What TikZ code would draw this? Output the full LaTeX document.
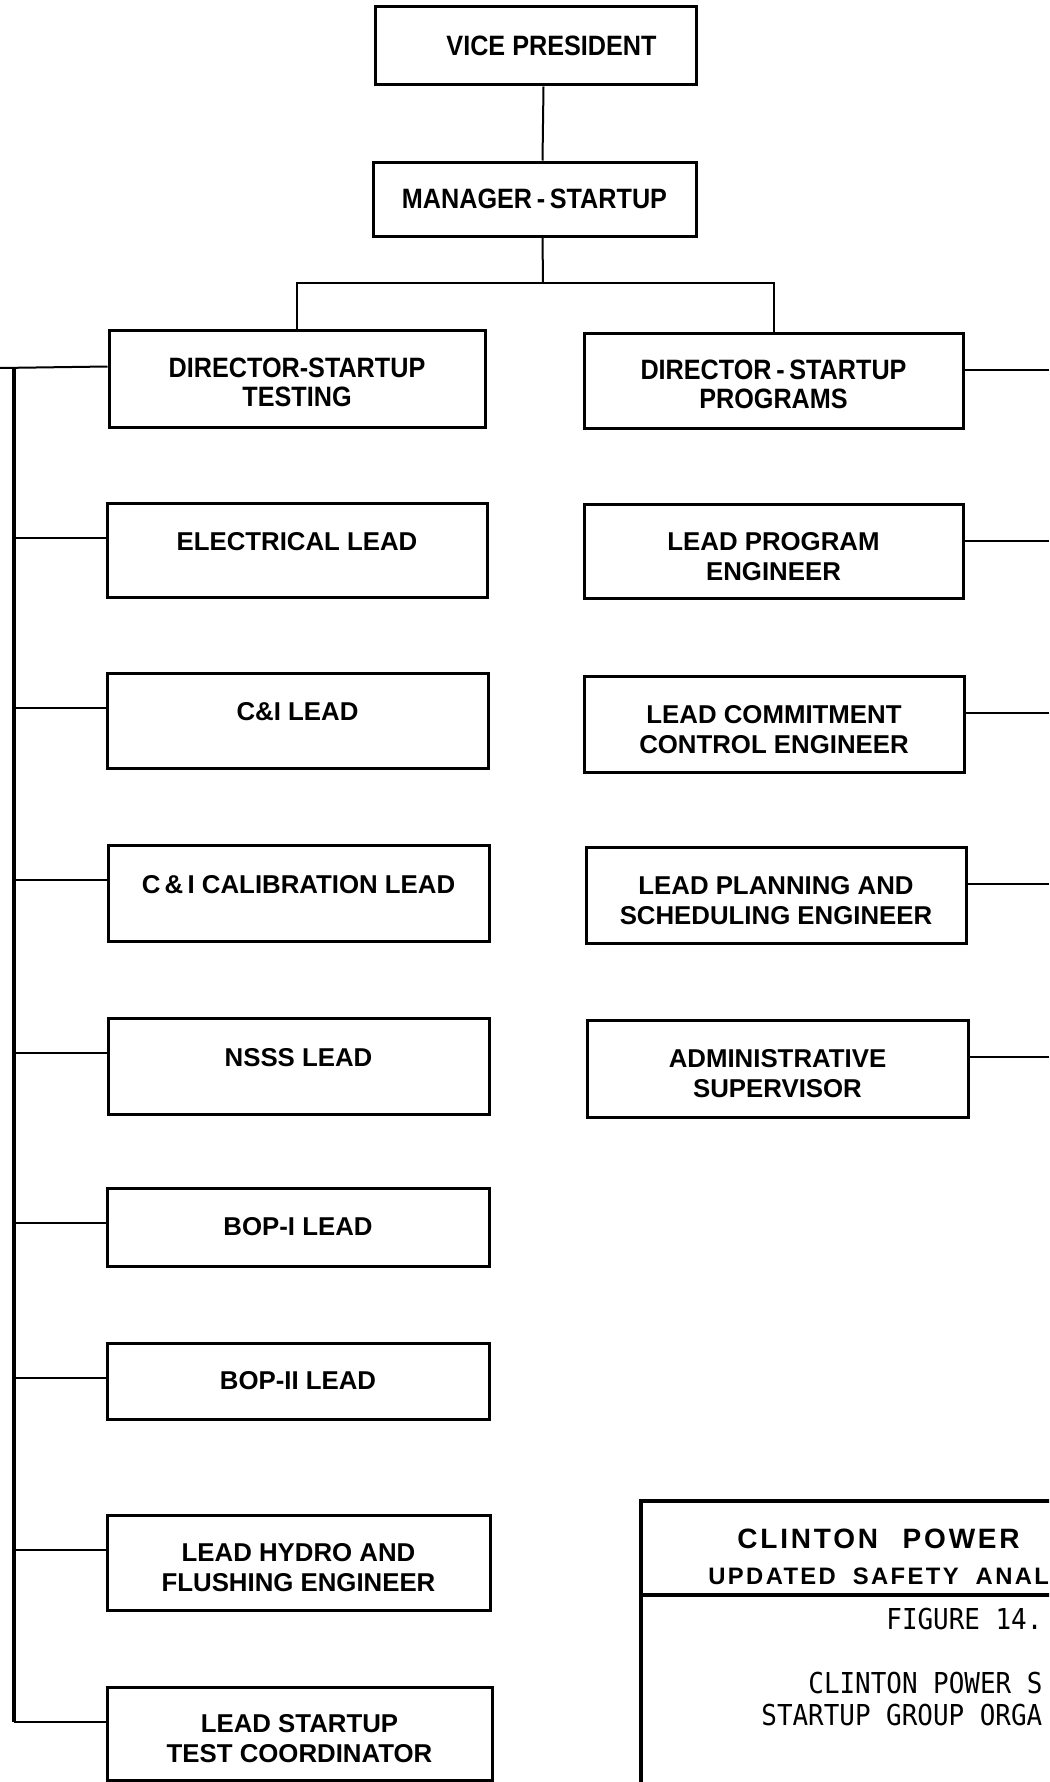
\documentclass[tikz,border=0pt]{standalone}
\usepackage{fontspec}
\setmainfont{Liberation Sans}
\newfontfamily\condfont[FakeStretch=0.9]{Liberation Sans}
\newfontfamily\ttlfont[LetterSpace=10]{Liberation Sans}
\newfontfamily\monofont[FakeStretch=0.9]{DejaVu Sans Mono}
\newcommand\hiA{\rule{0pt}{14.25pt}}
\newcommand\hiB{\rule{0pt}{14pt}}
\newcommand\loA{\rule[-9pt]{0pt}{9pt}}
\tikzset{
  x=0.5pt, y=-0.5pt,
  box/.style={draw, line width=1.5pt, inner sep=0pt, align=center,
    font=\bfseries\fontsize{12.9pt}{15pt}\selectfont},
  topbox/.style={box, font=\condfont\bfseries\fontsize{14pt}{14.5pt}\selectfont},
  conn/.style={line width=1pt},
  bus/.style={line width=1.6pt},
  tbl/.style={line width=2pt},
  ttl/.style={anchor=base west, inner sep=0pt}
}
\begin{document}
\begin{tikzpicture}
\fill[white] (0,0) rectangle (1049,1782);
\useasboundingbox (0,0) rectangle (1049,1782);
\clip (0,0) rectangle (1049,1782);

% top boxes
\node[topbox, minimum width=160.5pt, minimum height=39pt] (vp) at (535.5,46) {\hspace*{16pt}VICE PRESIDENT};
\node[topbox, minimum width=161.5pt, minimum height=37pt] (mgr) at (534.5,199) {MANAGER\,-\,STARTUP};
\node[topbox, minimum width=188pt, minimum height=48.5pt] (dtest) at (297,378.5) {\hiB DIRECTOR-STARTUP\\TESTING};
\node[topbox, minimum width=189.5pt, minimum height=47.5pt] (dprog) at (773.5,380.5) {\hiB DIRECTOR\,-\,STARTUP\\PROGRAMS};

% left column
\node[box, minimum width=190pt, minimum height=47pt] (elec) at (297,550) {\loA ELECTRICAL LEAD};
\node[box, minimum width=190.5pt, minimum height=47.5pt] (ci) at (297.5,720.5) {\loA C\&I LEAD};
\node[box, minimum width=190.5pt, minimum height=48pt] (cical) at (298.5,893) {\loA C\,\&\,I CALIBRATION LEAD};
\node[box, minimum width=190.5pt, minimum height=48pt] (nsss) at (298.5,1066) {\loA NSSS LEAD};
\node[box, minimum width=191pt, minimum height=39pt] (bop1) at (298,1227) {BOP-I LEAD};
\node[box, minimum width=191pt, minimum height=38pt] (bop2) at (298,1381) {BOP-II LEAD};
\node[box, minimum width=191.5pt, minimum height=47.5pt] (hydro) at (298.5,1562.5) {\hiA LEAD HYDRO AND\\FLUSHING ENGINEER};
\node[box, minimum width=192.5pt, minimum height=46.5pt] (coord) at (299.5,1733.5) {\hiA LEAD STARTUP\\TEST COORDINATOR};

% right column
\node[box, minimum width=189.5pt, minimum height=47pt] (lpe) at (773.5,551) {\hiA LEAD PROGRAM\\ENGINEER};
\node[box, minimum width=190pt, minimum height=48pt] (lcc) at (774,724) {\hiA LEAD COMMITMENT\\CONTROL ENGINEER};
\node[box, minimum width=190pt, minimum height=48pt] (lps) at (776,895) {\hiA LEAD PLANNING AND\\SCHEDULING ENGINEER};
\node[box, minimum width=190.5pt, minimum height=48.5pt] (adm) at (777.5,1068.5) {\hiA ADMINISTRATIVE\\SUPERVISOR};

% top connectors
\draw[conn] ([xshift=4pt]vp.south) -- ([xshift=4pt]mgr.north);
\coordinate (split) at (543,283);
\draw[conn] ([xshift=4pt]mgr.south) -- (split);
\draw[conn] (dtest.north) |- (split) -| (dprog.north);

% left bus
\coordinate (edgeL) at (0,368);
\coordinate (busT) at (14,368);
\draw[conn] (edgeL) -- ([yshift=-19pt]dtest.north west);
\foreach \b in {elec,ci,cical,nsss,bop1,bop2,hydro,coord}{
  \coordinate (\b-l) at ([yshift=-18pt]\b.north west);
  \draw[conn] (\b-l) -- (\b-l -| busT);
}
\draw[bus] (busT) -- (coord-l -| busT);

% right side
\coordinate (edgeR) at (1049,0);
\foreach \b in {dprog,lpe,lcc,lps,adm}{
  \coordinate (\b-r) at ([yshift=-19pt]\b.north east);
  \draw[conn] (\b-r) -- (\b-r -| edgeR);
}

% title block
\draw[tbl] (1060,1501) -- (641,1501) -- (641,1800);
\draw[tbl] (641,1595) -- (1060,1595);
\node[ttl, font=\ttlfont\bfseries\fontsize{14pt}{16pt}\selectfont] (tt1) at (737,1548) {CLINTON \hspace{7pt}POWER};
\node[ttl, font=\ttlfont\bfseries\fontsize{11.9pt}{14pt}\selectfont] (tt2) at (708,1584) {UPDATED \hspace{4pt}SAFETY \hspace{4pt}ANAL};
\node[ttl, font=\monofont\fontsize{14.4pt}{16pt}\selectfont] (tt3) at (886,1629) {FIGURE 14.};
\node[ttl, font=\monofont\fontsize{14.4pt}{16pt}\selectfont] (tt4) at (808,1693) {CLINTON POWER S};
\node[ttl, font=\monofont\fontsize{14.4pt}{16pt}\selectfont] (tt5) at (761,1725) {STARTUP GROUP ORGA};
\end{tikzpicture}
\end{document}
